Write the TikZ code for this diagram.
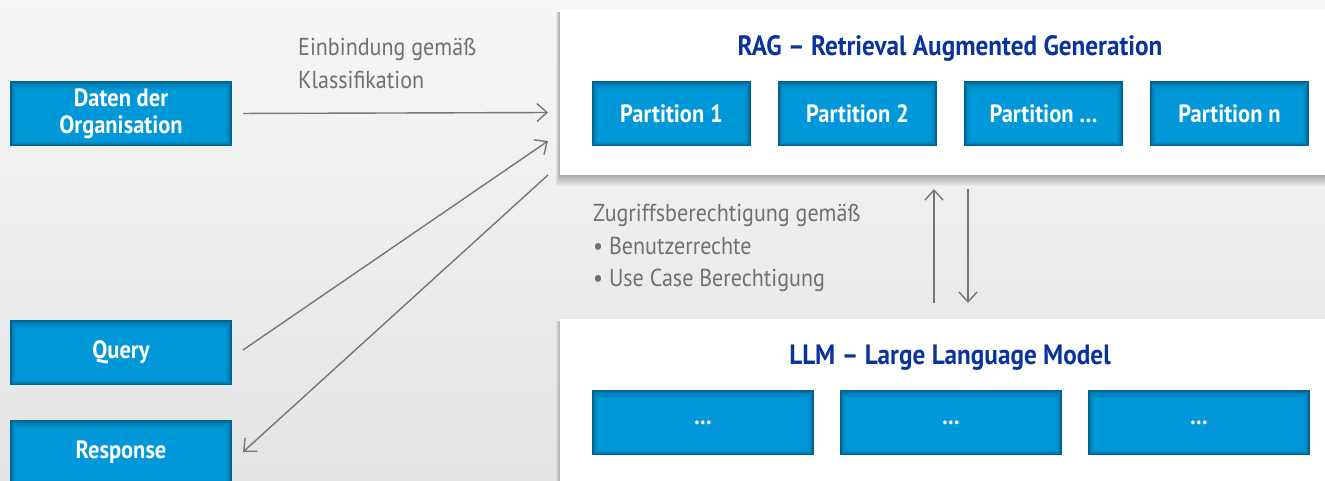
\documentclass[tikz,border=0pt]{standalone}
\usepackage{fontspec}
\setmainfont{PT Sans}[FakeStretch=0.9]
\usetikzlibrary{arrows.meta,calc}
\definecolor{bxblue}{RGB}{0,152,216}
\definecolor{bxdark}{RGB}{0,96,140}
\definecolor{ttlblue}{RGB}{10,52,156}
\definecolor{lblgray}{RGB}{112,112,112}
\definecolor{arrgray}{RGB}{118,118,118}
\definecolor{bgtop}{RGB}{246,246,246}
\definecolor{bgbot}{RGB}{228,228,228}
\tikzset{
  bluebox/.style={minimum width=#1, minimum height=65pt, inner sep=0pt,
    fill=bxdark, text=white, align=center,
    font=\bfseries\fontsize{25}{27}\selectfont,
    path picture={
      \foreach \k/\c in {1/20,2/38,3/54,4/67,5/78,6/87,7/94,8/98,9/100}{
        \fill[bxblue!\c!bxdark]
          ($(path picture bounding box.south west)+(\k*0.8pt,\k*0.6pt)$)
          rectangle
          ($(path picture bounding box.north east)+(-\k*0.8pt,-\k*1.1pt)$);
      }
    }},
  panel/.style={fill=white, inner sep=0pt, anchor=north west},
  ttl/.style={text=ttlblue, font=\bfseries\fontsize{28}{30}\selectfont},
  lbl/.style={text=lblgray, align=left, anchor=north west, inner sep=0pt,
    font=\fontsize{24.5}{32.5}\selectfont},
  conn/.style={draw=arrgray, line width=1.4pt,
    -{Straight Barb[length=10pt,width=18pt,line width=1.4pt]}},
}
\begin{document}
\begin{tikzpicture}[x=1pt,y=-1pt]
\clip (0,0) rectangle (1325,480);
\shade[top color=bgtop, bottom color=bgbot] (0,0) rectangle (1325,480);

% panel shadows
\foreach \k in {1,...,10}{
  \fill[black, opacity=0.03] (560-\k*0.4,12) rectangle (1330,175+\k*1.1);
  \fill[black, opacity=0.025] (560-\k*0.4,321) rectangle (1330,490);
}
\node[panel, minimum width=780pt, minimum height=165pt] (rag) at (560,10) {};
\node[panel, minimum width=780pt, minimum height=175pt] (llm) at (560,319) {};

\node[ttl] (ragt) at (950,48) {RAG – Retrieval Augmented Generation};
\node[ttl] (llmt) at (950,358) {LLM – Large Language Model};

% partitions
\node[bluebox=159pt] (p1) at (671.5,113.5) {Partition 1};
\node[bluebox=159pt] (p2) at (857.5,113.5) {Partition 2};
\node[bluebox=159pt] (p3) at (1043.5,113.5) {Partition …};
\node[bluebox=159pt] (pn) at (1229.5,113.5) {Partition n};

% LLM boxes
\node[bluebox=222pt] (m1) at (703,422.5) {...};
\node[bluebox=222pt] (m2) at (951,422.5) {...};
\node[bluebox=222pt] (m3) at (1199,422.5) {...};

% left boxes
\node[bluebox=222pt] (daten) at (121,113.5) {Daten der\\Organisation};
\node[bluebox=222pt] (query) at (121,352.5) {Query};
\node[bluebox=222pt] (resp) at (121,452.5) {Response};

% labels
\node[lbl] (l1) at (298,38) {Einbindung gemäß\\Klassifikation};
\node[lbl] (l2) at (593,204) {Zugriffsberechtigung gemäß\\• Benutzerrechte\\• Use Case Berechtigung};

% connectors
\coordinate (d2) at (548,112.5);
\coordinate (q1) at (243,350);
\coordinate (q2) at (548,141);
\coordinate (r1) at (548,175);
\coordinate (r2) at (243,452);
\coordinate (u1) at (934,303);
\coordinate (u2) at (934,189);
\coordinate (w1) at (968,189);
\coordinate (w2) at (968,303);
\draw[conn, shorten <=11pt] (daten.east) -- (d2);
\draw[conn] (q1) -- (q2);
\draw[conn] (r1) -- (r2);
\draw[conn] (u1) -- (u2);
\draw[conn] (w1) -- (w2);
\end{tikzpicture}
\end{document}
